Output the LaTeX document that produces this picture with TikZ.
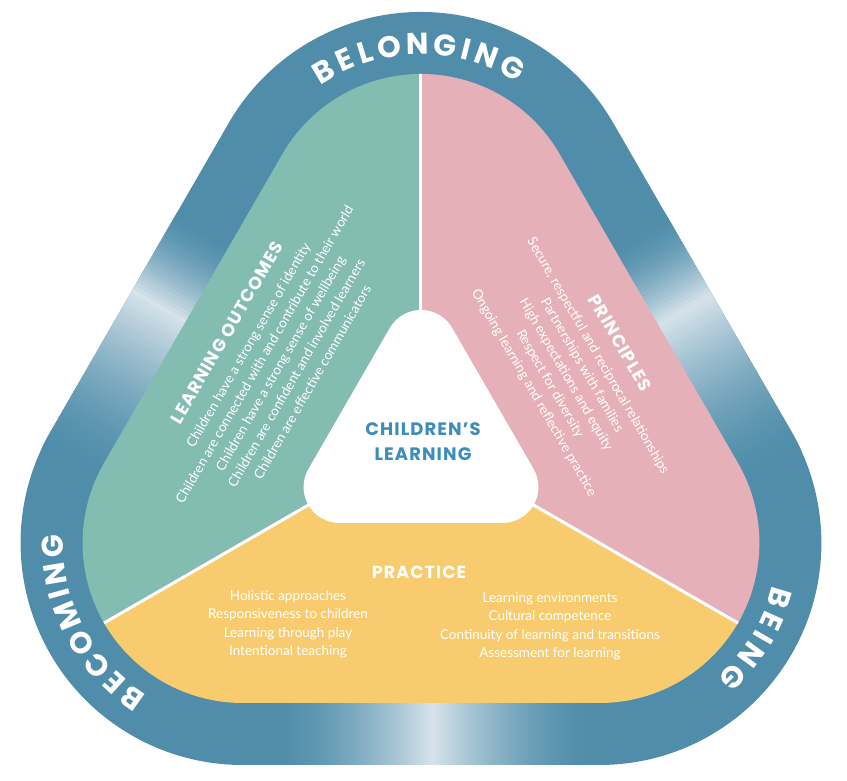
\documentclass[tikz,border=0pt]{standalone}
\usepackage{fontspec}
\setmainfont{Lato}
\newfontfamily\headfamily{Poppins}[LetterSpace=6]
\newfontfamily\ringfamily{Poppins}
\usetikzlibrary{calc}

\definecolor{ringblue}{HTML}{4F8DAA}
\definecolor{ringlight}{HTML}{D6E3EA}
\definecolor{outcomegreen}{HTML}{83BCB0}
\definecolor{principlepink}{HTML}{E5B0B8}
\definecolor{practiceyellow}{HTML}{F8CC6E}
\definecolor{learnblue}{HTML}{3C8DB9}

% rounded triangle round the centre: #1 inradius, #2 corner radius
\newcommand{\roundtri}[2]{($(90:{2*(#1-#2)})+(30:#2)$) arc[start angle=30,end angle=150,radius=#2]
  -- ($(210:{2*(#1-#2)})+(150:#2)$) arc[start angle=150,end angle=270,radius=#2]
  -- ($(330:{2*(#1-#2)})+(270:#2)$) arc[start angle=270,end angle=390,radius=#2] -- cycle}
\newcommand{\titlefont}{\fontsize{17.5}{18.5}\selectfont\headfamily\bfseries}

\begin{document}
\begin{tikzpicture}[x=1pt,y=1pt,
  block/.style={text=white, align=center, inner sep=0pt, font=\fontsize{13.5}{18.5}\selectfont},
  ringletter/.style={text=white, inner sep=0pt, font=\fontsize{30}{30}\selectfont\ringfamily\bfseries}]
\useasboundingbox (-421,-341) rectangle (426,440);

% Ring, with a light glow in the middle of each side
\begin{scope}
  \clip \roundtri{325}{222};
  \fill[ringblue] (-500,-500) rectangle (500,500);
  \begin{scope}[shift={($(150:294)+(240:17)$)}, rotate=60]
    \foreach \t in {-180,-176,...,90} {
      \pgfmathsetmacro\p{100*(\t<0 ? (1+\t/180) : (1-\t/90))^1.6}
      \fill[ringlight!\p!ringblue] (\t,-40) rectangle ++(4.6,80);
    }
  \end{scope}
  \begin{scope}[shift={($(30:294)+(300:17)$)}, rotate=-60]
    \foreach \t in {-90,-86,...,180} {
      \pgfmathsetmacro\p{100*(\t<0 ? (1+\t/90) : (1-\t/180))^1.6}
      \fill[ringlight!\p!ringblue] (\t,-40) rectangle ++(4.6,80);
    }
  \end{scope}
  \begin{scope}[shift={(270:294)}]
    \foreach \t in {-150,-146,...,170} {
      \pgfmathsetmacro\p{100*(\t<10 ? (1-(10-\t)/160) : (1-(\t-10)/160))^1.6}
      \fill[ringlight!\p!ringblue] (\t,-40) rectangle ++(4.6,80);
    }
  \end{scope}
\end{scope}

% Three parts
\begin{scope}
  \clip \roundtri{263}{160};
  \fill[outcomegreen] (0,0) -- (90:900) -- (210:900) -- cycle;
  \fill[practiceyellow] (0,0) -- (210:900) -- (330:900) -- cycle;
  \fill[principlepink] (0,0) -- (330:900) -- (90:900) -- cycle;
  \foreach \a in {90,210,330}
    \draw[white, line width=3pt] (0,0) -- (\a:500);
\end{scope}

% Centre
\fill[white] \roundtri{83}{36};
\node[learnblue, align=center, font=\fontsize{18}{25}\selectfont\headfamily\bfseries] (centre) at (2,-1.5) {CHILDREN’S\\LEARNING};

% Ring words, letter by letter round the corners
\foreach \l/\a [count=\i] in {B/120.9, E/113.68, L/107.06, O/99.53, N/91.03, G/82.53, I/76.06, N/69.74, G/61.24}
  \node[ringletter, rotate=\a-90] (belonging\i) at ($(90:206)+(\a:190)$) {\l};
\foreach \l/\a [count=\i] in {B/-17, E/-24.32, I/-29.97, N/-36.39, G/-45}
  \node[ringletter, rotate=\a-90] (being\i) at ($(330:206)+(\a:189)$) {\l};
\foreach \l/\a [count=\i] in {B/234.6, E/227.46, C/220.09, O/211.82, M/202.64, I/195.65, N/189.42, G/180.99}
  \node[ringletter, rotate=\a-90] (becoming\i) at ($(210:206)+(\a:190)$) {\l};

% Learning outcomes
\node[block, rotate=60] (outcomes) at (-152,83) {{\titlefont LEARNING OUTCOMES}\\[5pt]
  Children have a strong sense of identity\\
  Children are connected with and contribute to their world\\
  Children have a strong sense of wellbeing\\
  Children are confident and involved learners\\
  Children are effective communicators};

% Principles
\node[block, rotate=-60] (principles) at (156,72) {{\titlefont PRINCIPLES}\\[5pt]
  Secure, respectful and reciprocal relationships\\
  Partnerships with families\\
  High expectations and equity\\
  Respect for diversity\\
  Ongoing learning and reflective practice};

% Practice
\node[block, anchor=base] (practice) at (-2,-139) {\titlefont PRACTICE};
\node[block] (practiceleft) at (-133,-184.5) {Holistic approaches\\
  Responsiveness to children\\
  Learning through play\\
  Intentional teaching};
\node[block] (practiceright) at (129,-186.5) {Learning environments\\
  Cultural competence\\
  Continuity of learning and transitions\\
  Assessment for learning};

\end{tikzpicture}
\end{document}
